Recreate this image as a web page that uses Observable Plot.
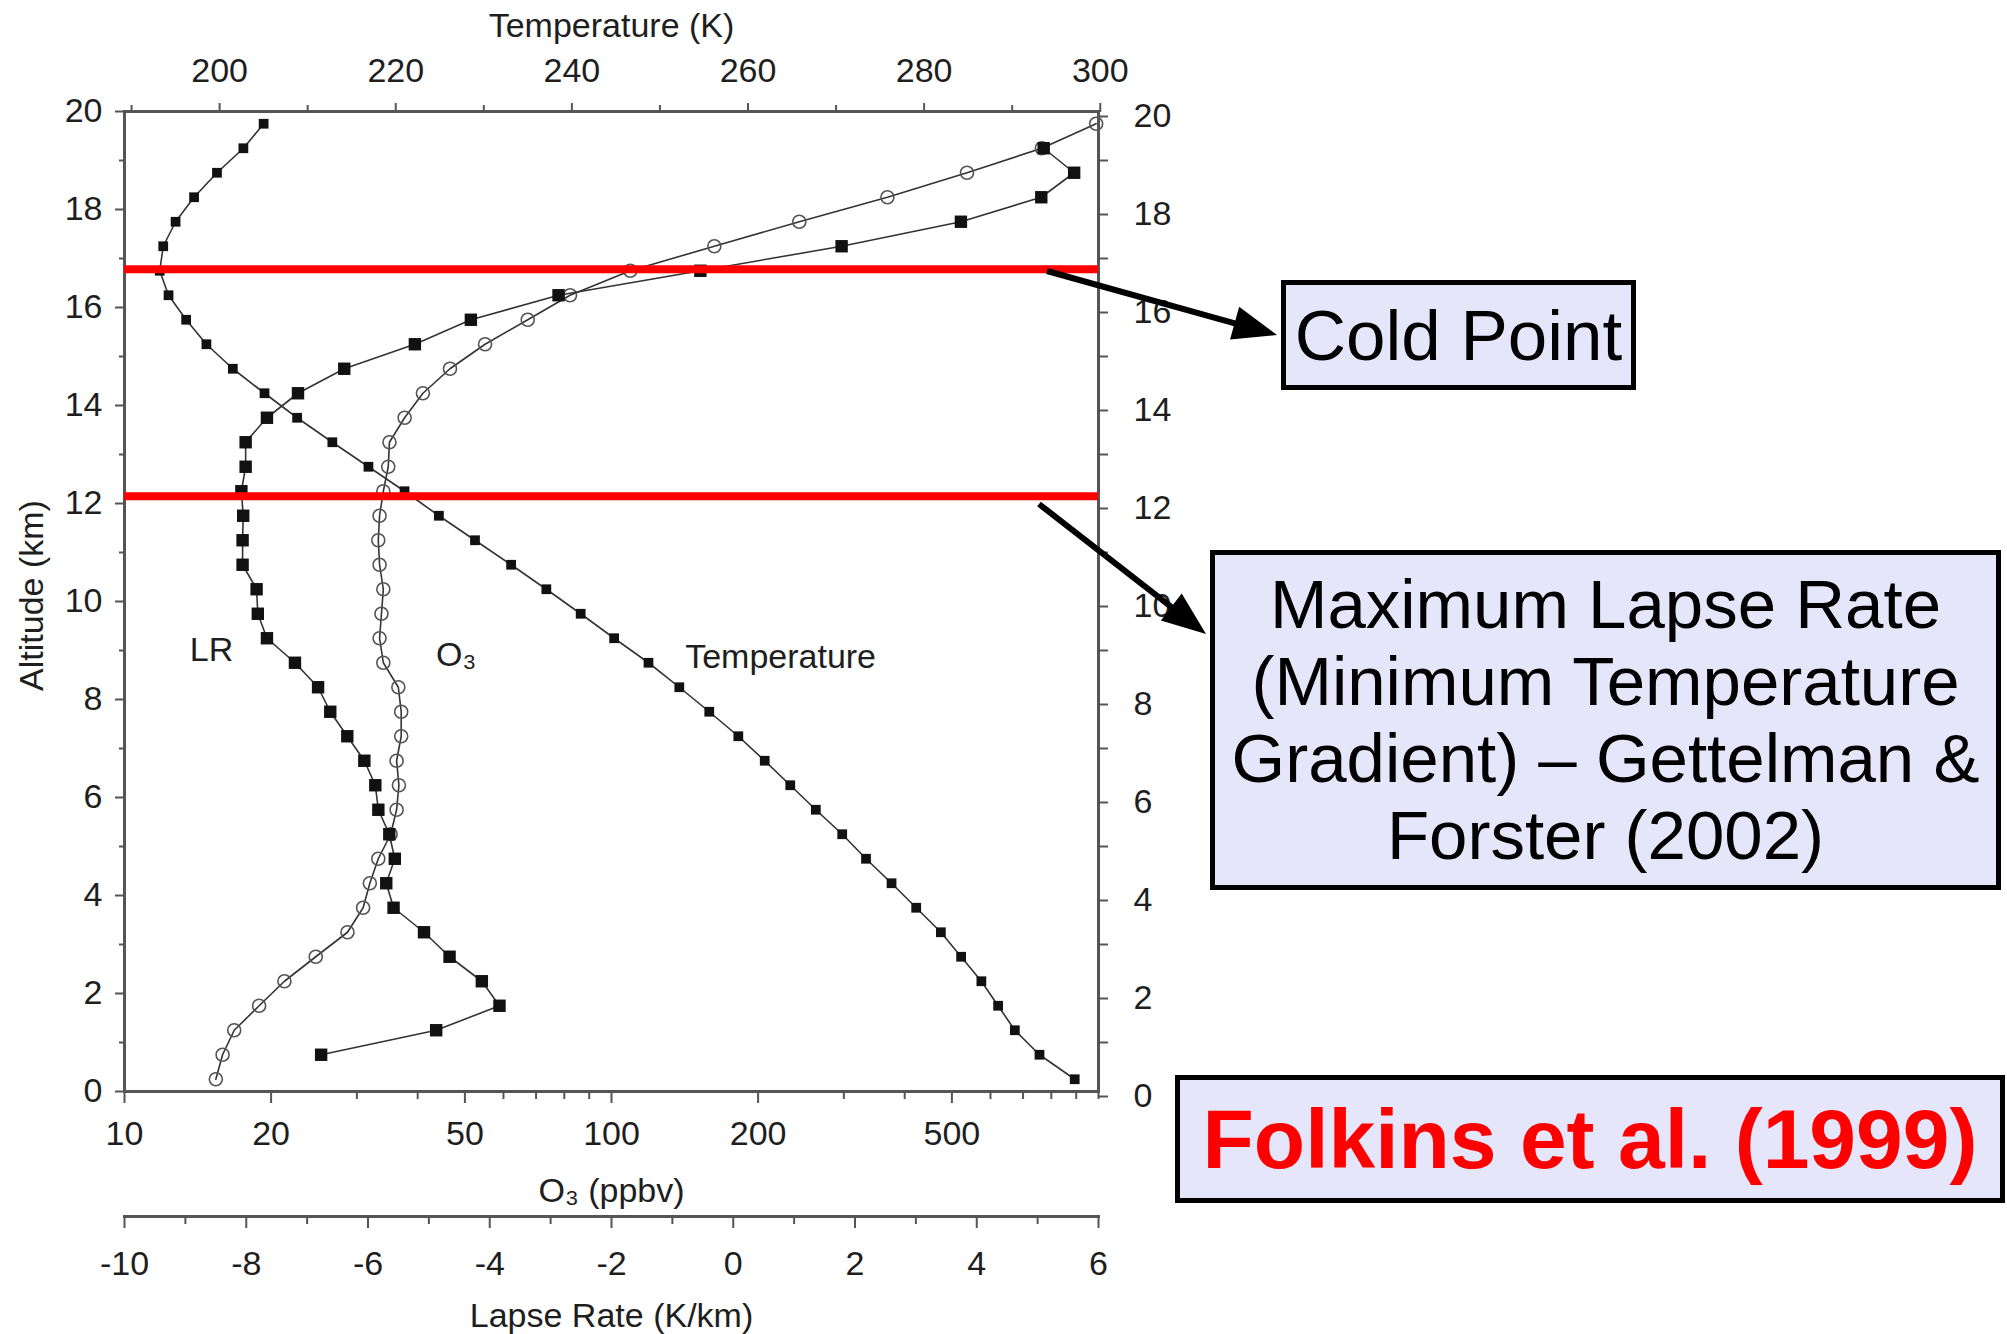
<!DOCTYPE html>
<html>
<head>
<meta charset="utf-8">
<script src="https://cdn.jsdelivr.net/npm/d3@7"></script>
<script src="https://cdn.jsdelivr.net/npm/@observablehq/plot@0.6"></script>
<style>
  html, body { margin: 0; padding: 0; background: #fff; }
  body { width: 2007px; height: 1334px; position: relative; overflow: hidden;
         font-family: "Liberation Sans", Arial, Helvetica, sans-serif; }
  .layer { position: absolute; left: 0; top: 0; }
  .box { position: absolute; box-sizing: border-box; background: #E6E6FA; border: 5px solid #000;
         display: flex; align-items: center; justify-content: center; text-align: center; color: #000; }
</style>
</head>
<body>
<div id="l1" class="layer"></div>
<div id="l2" class="layer"></div>
<div id="l3" class="layer"></div>
<div class="box" style="left:1281px;top:280px;width:355px;height:110px;font-size:71px;line-height:1;">Cold Point</div>
<div class="box" style="left:1210px;top:550px;width:791px;height:340px;font-size:69px;line-height:77px;">Maximum Lapse Rate<br>(Minimum Temperature<br>Gradient) – Gettelman &amp;<br>Forster (2002)</div>
<div class="box" style="left:1175px;top:1075px;width:830px;height:128px;font-size:84px;font-weight:bold;color:#ff0000;line-height:1;">Folkins et al. (1999)</div>
<svg id="arrows" class="layer" width="2007" height="1334" style="pointer-events:none"></svg>
<script>
// ---------------- data ----------------
const altitudeKm = [0.25, 0.75, 1.25, 1.75, 2.25, 2.75, 3.25, 3.75, 4.25, 4.75,
                    5.25, 5.75, 6.25, 6.75, 7.25, 7.75, 8.25, 8.75, 9.25, 9.75,
                    10.25, 10.75, 11.25, 11.75, 12.25, 12.75, 13.25, 13.75, 14.25, 14.75,
                    15.25, 15.75, 16.25, 16.75, 17.25, 17.75, 18.25, 18.75, 19.25, 19.75];
const temperatureK = [297.1, 293.1, 290.3, 288.4, 286.5, 284.2, 281.9, 279.1, 276.3, 273.4,
                      270.7, 267.7, 264.8, 261.9, 258.9, 255.6, 252.2, 248.7, 244.8, 241.0,
                      237.1, 233.1, 229.0, 224.9, 221.0, 216.9, 212.8, 208.8, 205.1, 201.5,
                      198.5, 196.2, 194.2, 193.2, 193.6, 195.0, 197.1, 199.7, 202.7, 205.0];
const ozonePpbv = [15.4, 15.9, 16.8, 18.9, 21.3, 24.7, 28.7, 30.9, 31.9, 33.2,
                   35.2, 36.2, 36.6, 36.2, 37.0, 37.0, 36.5, 34.0, 33.4, 33.7,
                   34.0, 33.4, 33.2, 33.4, 34.0, 34.8, 35.0, 37.6, 41.0, 46.6,
                   55.0, 67.3, 82.2, 109.3, 162.6, 243, 368.6, 537, 765, 989];
const lapseAltitudeKm = [0.75, 1.25, 1.75, 2.25, 2.75, 3.25, 3.75, 4.25, 4.75, 5.25,
                         5.75, 6.25, 6.75, 7.25, 7.75, 8.25, 8.75, 9.25, 9.75, 10.25,
                         10.75, 11.25, 11.75, 12.25, 12.75, 13.25, 13.75, 14.25, 14.75, 15.25,
                         15.75, 16.25, 16.75, 17.25, 17.75, 18.25, 18.75, 19.25];
const lapseRateKkm = [-6.77, -4.88, -3.84, -4.13, -4.66, -5.08, -5.58, -5.70, -5.56, -5.65,
                      -5.83, -5.88, -6.06, -6.34, -6.62, -6.82, -7.20, -7.66, -7.81, -7.83,
                      -8.06, -8.06, -8.05, -8.08, -8.01, -8.01, -7.66, -7.15, -6.39, -5.23,
                      -4.31, -2.87, -0.54, 1.78, 3.74, 5.06, 5.60, 5.10];

// tick values
const altitudeTicks = [0, 2, 4, 6, 8, 10, 12, 14, 16, 18, 20];
const altitudeMinor = [1, 3, 5, 7, 9, 11, 13, 15, 17, 19];
const temperatureTicks = [200, 220, 240, 260, 280, 300];
const temperatureMinor = [190, 210, 230, 250, 270, 290];
const ozoneTicks = [10, 20, 50, 100, 200, 500];
const ozoneMinor = [30, 40, 60, 70, 80, 90, 300, 400, 600, 700, 800, 900, 1000];
const lapseTicks = [-10, -8, -6, -4, -2, 0, 2, 4, 6];
const lapseMinor = [-9, -7, -5, -3, -1, 1, 3, 5];

// reference levels (cold point, maximum lapse rate)
const referenceLevelsKm = [16.78, 12.15];

// in-plot series labels
const temperatureLabel = [{t: 263.7, alt: 8.86, text: "Temperature"}];
const ozoneLabel = [{o3: 48, alt: 8.9, text: "O₃"}];
const lapseLabel = [{lr: -8.57, alt: 9.0, text: "LR"}];

// ---------------- tables ----------------
const tempRows = altitudeKm.map((a, i) => ({alt: a, t: temperatureK[i]}));
const ozoneRows = altitudeKm.map((a, i) => ({alt: a, o3: ozonePpbv[i]}));
const lapseRows = lapseAltitudeKm.map((a, i) => ({alt: a, lr: lapseRateKkm[i]}));

// ---------------- layout ----------------
const W = 2007, H = 1334;
const ML = 124, MR = W - 1098, MT = 111, MB = H - 1091;
const FONT = "'Liberation Sans', Arial, Helvetica, sans-serif";
const TXT = "#1e1e1e", AX = "#555";
const FS = 34;
const blank = () => "";
const num = d => String(d);

// Layer 1: frame, altitude axes, ozone (log) axis and series
const layer1 = Plot.plot({
  width: W, height: H, marginLeft: ML, marginRight: MR, marginTop: MT, marginBottom: MB,
  style: {fontFamily: FONT, color: TXT, background: "white"},
  x: {type: "log", domain: [10, 1000], axis: null},
  y: {domain: [0, 20], axis: null},
  marks: [
    Plot.frame({stroke: AX, strokeWidth: 3}),
    Plot.axisY({anchor: "left", ticks: altitudeTicks, tickFormat: num, tickSize: 9, tickPadding: 13, fontSize: FS, label: null, stroke: AX, strokeWidth: 2}),
    Plot.axisY({anchor: "left", ticks: altitudeMinor, tickFormat: blank, tickSize: 5, label: null, stroke: AX, strokeWidth: 2}),
    Plot.axisY({anchor: "right", ticks: altitudeTicks, tickFormat: num, tickSize: 9, tickPadding: 26, fontSize: FS, label: null, stroke: AX, strokeWidth: 2, dy: 5}),
    Plot.axisY({anchor: "right", ticks: altitudeMinor, tickFormat: blank, tickSize: 9, label: null, stroke: AX, strokeWidth: 2}),
    Plot.axisX({anchor: "bottom", ticks: ozoneTicks, tickFormat: num, tickSize: 12, tickPadding: 17, fontSize: FS, label: null, stroke: AX, strokeWidth: 2}),
    Plot.axisX({anchor: "bottom", ticks: ozoneMinor, tickFormat: blank, tickSize: 8, label: null, stroke: AX, strokeWidth: 2}),
    Plot.text(["Altitude (km)"], {text: d => d, frameAnchor: "left", textAnchor: "middle", dx: -92, dy: -6, rotate: -90, fontSize: FS, fill: TXT}),
    Plot.text(["O₃ (ppbv)"], {text: d => d, frameAnchor: "bottom", dy: 110, fontSize: FS, fill: TXT}),
    Plot.line(ozoneRows, {x: "o3", y: "alt", stroke: "#333", strokeWidth: 1.6}),
    Plot.dot(ozoneRows, {x: "o3", y: "alt", r: 6.5, stroke: "#555", strokeWidth: 1.6, fill: "none"}),
    Plot.text(ozoneLabel, {x: "o3", y: "alt", text: "text", fontSize: FS, fill: TXT})
  ]
});
document.getElementById("l1").appendChild(layer1);

// Layer 2: temperature (top axis)
const layer2 = Plot.plot({
  width: W, height: H, marginLeft: ML, marginRight: MR, marginTop: MT, marginBottom: MB,
  style: {fontFamily: FONT, color: TXT, background: "transparent"},
  x: {domain: [189.2, 299.8], axis: null},
  y: {domain: [0, 20], axis: null},
  marks: [
    Plot.axisX({anchor: "top", ticks: temperatureTicks, tickFormat: num, tickSize: 9, tickPadding: 21, fontSize: FS, label: null, stroke: AX, strokeWidth: 2}),
    Plot.axisX({anchor: "top", ticks: temperatureMinor, tickFormat: blank, tickSize: 7, label: null, stroke: AX, strokeWidth: 2}),
    Plot.text(["Temperature (K)"], {text: d => d, frameAnchor: "top", lineAnchor: "top", dy: -99, fontSize: FS, fill: TXT}),
    Plot.line(tempRows, {x: "t", y: "alt", stroke: "#333", strokeWidth: 1.6}),
    Plot.dot(tempRows, {x: "t", y: "alt", symbol: "square", r: 5.5, fill: "#111", stroke: "none"}),
    Plot.text(temperatureLabel, {x: "t", y: "alt", text: "text", fontSize: FS, fill: TXT})
  ]
});
document.getElementById("l2").appendChild(layer2);

// Layer 3: lapse rate (separate axis below) + reference levels
const LR_AXIS_Y = 1216;
const layer3 = Plot.plot({
  width: W, height: H, marginLeft: ML, marginRight: MR, marginTop: MT, marginBottom: H - LR_AXIS_Y,
  style: {fontFamily: FONT, color: TXT, background: "transparent"},
  x: {domain: [-10, 6], axis: null},
  y: {domain: [0, 20], range: [1091, 111], axis: null},
  marks: [
    Plot.frame({anchor: "bottom", stroke: AX, strokeWidth: 3}),
    Plot.axisX({anchor: "bottom", ticks: lapseTicks, tickFormat: num, tickSize: 12, tickPadding: 22, fontSize: FS, label: null, stroke: AX, strokeWidth: 2}),
    Plot.axisX({anchor: "bottom", ticks: lapseMinor, tickFormat: blank, tickSize: 8, label: null, stroke: AX, strokeWidth: 2}),
    Plot.text(["Lapse Rate (K/km)"], {text: d => d, frameAnchor: "bottom", dy: 110, fontSize: FS, fill: TXT}),
    Plot.line(lapseRows, {x: "lr", y: "alt", stroke: "#333", strokeWidth: 1.6}),
    Plot.dot(lapseRows, {x: "lr", y: "alt", symbol: "square", r: 7, fill: "#111", stroke: "none"}),
    Plot.text(lapseLabel, {x: "lr", y: "alt", text: "text", fontSize: FS, fill: TXT}),
    Plot.ruleY(referenceLevelsKm, {stroke: "#ff0000", strokeWidth: 8})
  ]
});
document.getElementById("l3").appendChild(layer3);

// Annotation arrows (callouts from the reference levels to the boxes)
const callouts = [
  {from: [1047, 271], to: [1277, 335]},
  {from: [1039, 504], to: [1206, 634]}
];
const svg = d3.select("#arrows");
for (const c of callouts) {
  const [x1, y1] = c.from, [x2, y2] = c.to;
  const dx = x2 - x1, dy = y2 - y1, L = Math.hypot(dx, dy);
  const ux = dx / L, uy = dy / L, px = -uy, py = ux;
  const hl = 44, hw = 17;
  const bx = x2 - hl * ux, by = y2 - hl * uy;
  svg.append("line").attr("x1", x1).attr("y1", y1).attr("x2", bx + 4 * ux).attr("y2", by + 4 * uy)
    .attr("stroke", "#000").attr("stroke-width", 6);
  svg.append("polygon")
    .attr("points", `${x2},${y2} ${bx + hw * px},${by + hw * py} ${bx - hw * px},${by - hw * py}`)
    .attr("fill", "#000");
}
</script>
</body>
</html>
